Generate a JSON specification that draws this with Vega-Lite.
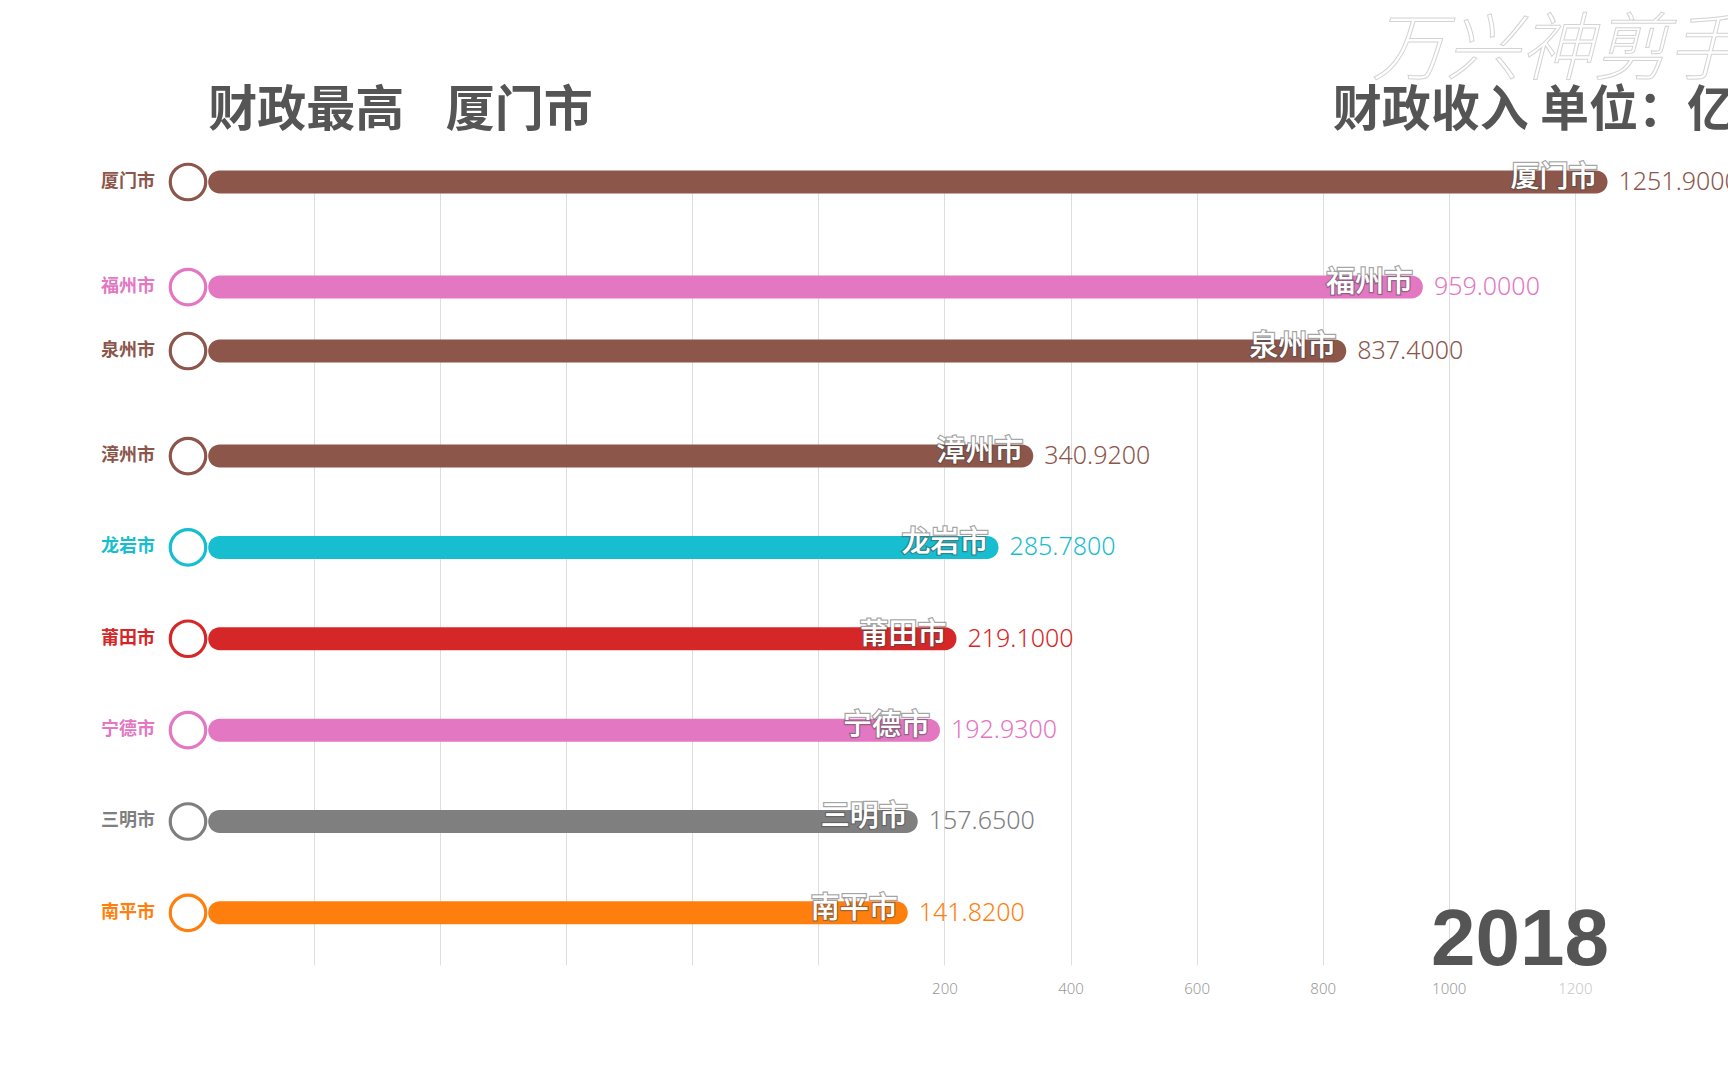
{
  "$schema": "https://vega.github.io/schema/vega-lite/v6.json",
  "width": 1540,
  "height": 783,
  "autosize": {"type": "none"},
  "padding": {"left": 188, "top": 182, "right": 0, "bottom": 115},
  "background": "white",
  "config": {"view": {"stroke": null}, "font": "Noto Sans CJK SC"},
  "datasets": {
    "cities": [
      {"city": "厦门市", "value": 1251.9, "rank": 1},
      {"city": "福州市", "value": 959.0, "rank": 2.15},
      {"city": "泉州市", "value": 837.4, "rank": 2.85},
      {"city": "漳州市", "value": 340.92, "rank": 4},
      {"city": "龙岩市", "value": 285.78, "rank": 5},
      {"city": "莆田市", "value": 219.1, "rank": 6},
      {"city": "宁德市", "value": 192.93, "rank": 7},
      {"city": "三明市", "value": 157.65, "rank": 8},
      {"city": "南平市", "value": 141.82, "rank": 9}
    ],
    "headers": [
      {"title": "财政最高\u00a0\u00a0\u00a0\u2006厦门市", "unit": "财政收入 单位：亿元", "year": "2018", "mark": "万兴神剪手"}
    ]
  },
  "layer": [
    {
      "data": {"name": "cities"},
      "mark": {"type": "bar", "orient": "horizontal", "size": 23, "cornerRadius": 11.5},
      "encoding": {
        "y": {"field": "rank", "type": "quantitative", "scale": {"domain": [1, 9.571], "reverse": true, "nice": false, "zero": false, "padding": 0}, "axis": null},
        "x": {"field": "value", "type": "quantitative", "scale": {"domain": [-1000, 1443], "nice": false, "zero": false, "padding": 0},
          "axis": {"values": [-800, -600, -400, -200, 0, 200, 400, 600, 800, 1000, 1200], "format": "d", "labelExpr": "datum.value > 0 ? datum.label : ''", "grid": true, "gridColor": "#dedede", "gridWidth": 1, "domain": false, "ticks": false, "labelFlush": false, "labelFont": "Noto Sans", "labelFontWeight": 300, "labelFontSize": 15, "labelColor": {"condition": {"test": "datum.value == 1200", "value": "#c8c8c8"}, "value": "#999999"}, "labelPadding": 16, "title": null}},
        "x2": {"datum": -968},
        "color": {"field": "city", "type": "nominal", "legend": null, "scale": {"domain": ["厦门市", "福州市", "泉州市", "漳州市", "龙岩市", "莆田市", "宁德市", "三明市", "南平市"], "range": ["#8c564b", "#e377c2", "#8c564b", "#8c564b", "#17becf", "#d62728", "#e377c2", "#7f7f7f", "#ff7f0e"]}}
      }
    },
    {
      "data": {"name": "cities"},
      "mark": {"type": "point", "shape": "circle", "size": 1260, "strokeWidth": 3.2, "filled": false, "fill": "white", "fillOpacity": 1, "opacity": 1},
      "encoding": {
        "y": {"field": "rank", "type": "quantitative"},
        "x": {"datum": -1000},
        "stroke": {"field": "city", "type": "nominal", "legend": null, "scale": {"domain": ["厦门市", "福州市", "泉州市", "漳州市", "龙岩市", "莆田市", "宁德市", "三明市", "南平市"], "range": ["#8c564b", "#e377c2", "#8c564b", "#8c564b", "#17becf", "#d62728", "#e377c2", "#7f7f7f", "#ff7f0e"]}}
      }
    },
    {
      "data": {"name": "cities"},
      "mark": {"type": "text", "align": "right", "baseline": "middle", "dx": -33, "fontSize": 18, "fontWeight": "bold", "font": "Noto Sans CJK SC"},
      "encoding": {
        "y": {"field": "rank", "type": "quantitative"},
        "x": {"datum": -1000},
        "text": {"field": "city"},
        "color": {"field": "city", "type": "nominal", "legend": null}
      }
    },
    {
      "data": {"name": "cities"},
      "mark": {"type": "text", "align": "right", "baseline": "middle", "dx": -10, "dy": -4, "fontSize": 29, "fontWeight": 500, "fill": "white", "stroke": "#4a4a4a", "strokeOpacity": 0.5, "strokeWidth": 2.5, "font": "Noto Sans CJK SC"},
      "encoding": {
        "y": {"field": "rank", "type": "quantitative"},
        "x": {"field": "value", "type": "quantitative"},
        "text": {"field": "city"}
      }
    },
    {
      "data": {"name": "cities"},
      "mark": {"type": "text", "align": "right", "baseline": "middle", "dx": -10, "dy": -4, "fontSize": 29, "fontWeight": 500, "fill": "white", "font": "Noto Sans CJK SC"},
      "encoding": {
        "y": {"field": "rank", "type": "quantitative"},
        "x": {"field": "value", "type": "quantitative"},
        "text": {"field": "city"}
      }
    },
    {
      "data": {"name": "cities"},
      "mark": {"type": "text", "align": "left", "baseline": "middle", "dx": 11, "fontSize": 25, "font": "Noto Sans", "fontWeight": 300},
      "encoding": {
        "y": {"field": "rank", "type": "quantitative"},
        "x": {"field": "value", "type": "quantitative"},
        "text": {"field": "value", "type": "quantitative", "format": ".4f"},
        "color": {"field": "city", "type": "nominal", "legend": null}
      }
    },
    {
      "data": {"name": "headers"},
      "mark": {"type": "text", "align": "left", "baseline": "middle", "fontSize": 74, "font": "Noto Sans CJK SC", "fontWeight": 300, "fontStyle": "italic", "fill": "white", "fillOpacity": 0, "stroke": "#d4d4d4", "strokeWidth": 1},
      "encoding": {
        "x": {"datum": 878},
        "y": {"datum": -0.42},
        "text": {"field": "mark", "type": "nominal"}
      }
    },
    {
      "data": {"name": "headers"},
      "mark": {"type": "text", "align": "left", "baseline": "middle", "fontSize": 49, "fontWeight": "bold", "fill": "#555555", "font": "Noto Sans CJK SC"},
      "encoding": {
        "x": {"datum": -968},
        "y": {"datum": 0.22},
        "text": {"field": "title", "type": "nominal"}
      }
    },
    {
      "data": {"name": "headers"},
      "mark": {"type": "text", "align": "left", "baseline": "middle", "fontSize": 49, "fontWeight": "bold", "fill": "#555555", "font": "Noto Sans CJK SC"},
      "encoding": {
        "x": {"datum": 816},
        "y": {"datum": 0.22},
        "text": {"field": "unit", "type": "nominal"}
      }
    },
    {
      "data": {"name": "headers"},
      "mark": {"type": "text", "align": "center", "baseline": "alphabetic", "fontSize": 80, "fontWeight": "bold", "fill": "#555555", "font": "Liberation Sans"},
      "encoding": {
        "x": {"datum": 1113},
        "y": {"datum": 9.575},
        "text": {"field": "year", "type": "nominal"}
      }
    }
  ]
}
